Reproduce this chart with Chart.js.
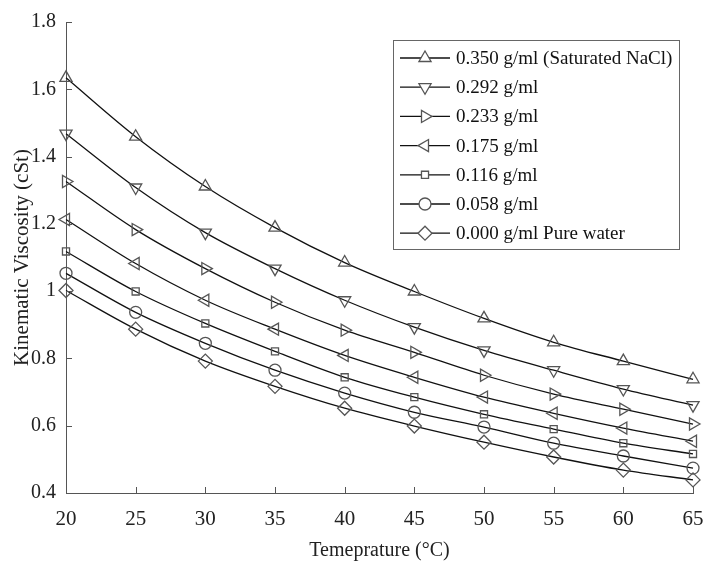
<!DOCTYPE html>
<html>
<head>
<meta charset="utf-8">
<script src="https://cdn.jsdelivr.net/npm/chart.js@4"></script>
<style>
  html, body { margin: 0; padding: 0; background: #fff; }
  #wrap { width: 704px; height: 567px; }
</style>
</head>
<body>
<div id="wrap"><canvas id="viscosityChart" width="704" height="567"></canvas></div>
<script>
const temperatures = [20, 25, 30, 35, 40, 45, 50, 55, 60, 65];

const labels = [
  '0.350 g/ml (Saturated NaCl)',
  '0.292 g/ml',
  '0.233 g/ml',
  '0.175 g/ml',
  '0.116 g/ml',
  '0.058 g/ml',
  '0.000 g/ml Pure water'
];

const conc350 = [1.634, 1.459, 1.311, 1.189, 1.085, 0.999, 0.919, 0.848, 0.792, 0.738];
const conc292 = [1.468, 1.308, 1.174, 1.067, 0.973, 0.893, 0.824, 0.765, 0.709, 0.661];
const conc233 = [1.326, 1.183, 1.067, 0.967, 0.884, 0.818, 0.750, 0.694, 0.649, 0.605];
const conc175 = [1.213, 1.082, 0.973, 0.887, 0.809, 0.744, 0.685, 0.637, 0.593, 0.554];
const conc116 = [1.118, 0.999, 0.904, 0.821, 0.744, 0.685, 0.634, 0.590, 0.548, 0.516];
const conc058 = [1.053, 0.937, 0.845, 0.765, 0.697, 0.640, 0.596, 0.548, 0.510, 0.474];
const conc000 = [1.002, 0.887, 0.792, 0.717, 0.652, 0.599, 0.551, 0.507, 0.468, 0.439];

const yTicks = [0.4, 0.6, 0.8, 1.0, 1.2, 1.4, 1.6, 1.8];
const xTicks = [20, 25, 30, 35, 40, 45, 50, 55, 60, 65];

const seriesValues = [conc350, conc292, conc233, conc175, conc116, conc058, conc000];
const markerStyles = ['triangle', 'triangle', 'triangle', 'triangle', 'rect', 'circle', 'rectRot'];
const markerRotation = [0, 180, 90, -90, 0, 0, 0];
const markerRadius = [7, 7, 7, 7, 5, 6, 7];

const serif = '"Liberation Serif", "DejaVu Serif", serif';
const axisColor = '#555';

const datasets = seriesValues.map((vals, i) => ({
  label: labels[i],
  data: vals.map((v, j) => ({ x: temperatures[j], y: v })),
  borderColor: '#111',
  borderWidth: 1.3,
  backgroundColor: 'rgba(0,0,0,0)',
  pointStyle: markerStyles[i],
  rotation: markerRotation[i],
  pointRadius: markerRadius[i],
  pointBorderColor: '#555',
  pointBorderWidth: 1.3,
  pointBackgroundColor: 'rgba(0,0,0,0)',
  cubicInterpolationMode: 'monotone',
  clip: false,
  fill: false
}));

// ticks drawn inward and boxed legend inside the plot, like the original figure
const figurePlugin = {
  id: 'figurePlugin',
  afterDraw(chart) {
    const ctx = chart.ctx;
    const xs = chart.scales.x;
    const ys = chart.scales.y;
    const area = chart.chartArea;
    ctx.save();
    ctx.strokeStyle = axisColor;
    ctx.lineWidth = 1;
    ctx.beginPath();
    yTicks.forEach(t => {
      const py = Math.round(ys.getPixelForValue(t)) + 0.5;
      ctx.moveTo(area.left, py);
      ctx.lineTo(area.left + 6, py);
    });
    xTicks.forEach(t => {
      const px = Math.round(xs.getPixelForValue(t)) + 0.5;
      ctx.moveTo(px, area.bottom);
      ctx.lineTo(px, area.bottom - 6);
    });
    ctx.stroke();

    // legend box
    const bx = 393, by = 40, bw = 286, bh = 209;
    ctx.fillStyle = '#fff';
    ctx.fillRect(bx, by, bw, bh);
    ctx.strokeStyle = '#666';
    ctx.lineWidth = 1;
    ctx.strokeRect(bx + 0.5, by + 0.5, bw, bh);
    ctx.font = '19px ' + serif;
    ctx.textBaseline = 'middle';
    ctx.textAlign = 'left';
    chart.data.datasets.forEach((ds, i) => {
      const cy = 58 + i * 29.2;
      ctx.strokeStyle = '#111';
      ctx.lineWidth = 1.3;
      ctx.beginPath();
      ctx.moveTo(400, cy);
      ctx.lineTo(450, cy);
      ctx.stroke();
      ctx.strokeStyle = '#555';
      ctx.fillStyle = '#fff';
      Chart.helpers.drawPoint(ctx, {
        pointStyle: ds.pointStyle,
        rotation: ds.rotation,
        radius: ds.pointRadius,
        borderWidth: 1.3
      }, 425, cy);
      ctx.fillStyle = '#111';
      ctx.fillText(ds.label, 456, cy + 1);
    });
    ctx.restore();
  }
};

const viscosityCtx = document.getElementById('viscosityChart').getContext('2d');
new Chart(viscosityCtx, {
  type: 'line',
  data: { datasets: datasets },
  plugins: [figurePlugin],
  options: {
    responsive: false,
    animation: false,
    layout: {
      padding: { top: 21, right: 11, left: 0, bottom: 0 }
    },
    plugins: {
      legend: { display: false },
      title: { display: false },
      tooltip: { enabled: false }
    },
    scales: {
      x: {
        type: 'linear',
        min: 20,
        max: 65,
        afterBuildTicks: axis => { axis.ticks = xTicks.map(v => ({ value: v })); },
        afterFit: axis => {
          axis.height = 74;
          axis.paddingLeft = 0;
          axis.paddingRight = 0;
        },
        ticks: {
          color: '#222',
          font: { family: serif, size: 21 },
          padding: 14,
          maxRotation: 0
        },
        grid: { display: false, drawTicks: false },
        border: { color: axisColor, width: 1 },
        title: {
          display: true,
          text: 'Temeprature (\u00B0C)',
          color: '#222',
          font: { family: serif, size: 20 },
          padding: { top: 6, bottom: 4 }
        }
      },
      y: {
        min: 0.4,
        max: 1.8,
        afterBuildTicks: axis => { axis.ticks = yTicks.map(v => ({ value: v })); },
        afterFit: axis => { axis.width = 66; },
        ticks: {
          color: '#222',
          font: { family: serif, size: 20 },
          padding: 10,
          callback: v => String(parseFloat(v.toFixed(1)))
        },
        grid: { display: false, drawTicks: false },
        border: { color: axisColor, width: 1 },
        title: {
          display: true,
          text: 'Kinematic Viscosity (cSt)',
          color: '#222',
          font: { family: serif, size: 21 },
          padding: { top: 10, bottom: 4 }
        }
      }
    }
  }
});
</script>
</body>
</html>
